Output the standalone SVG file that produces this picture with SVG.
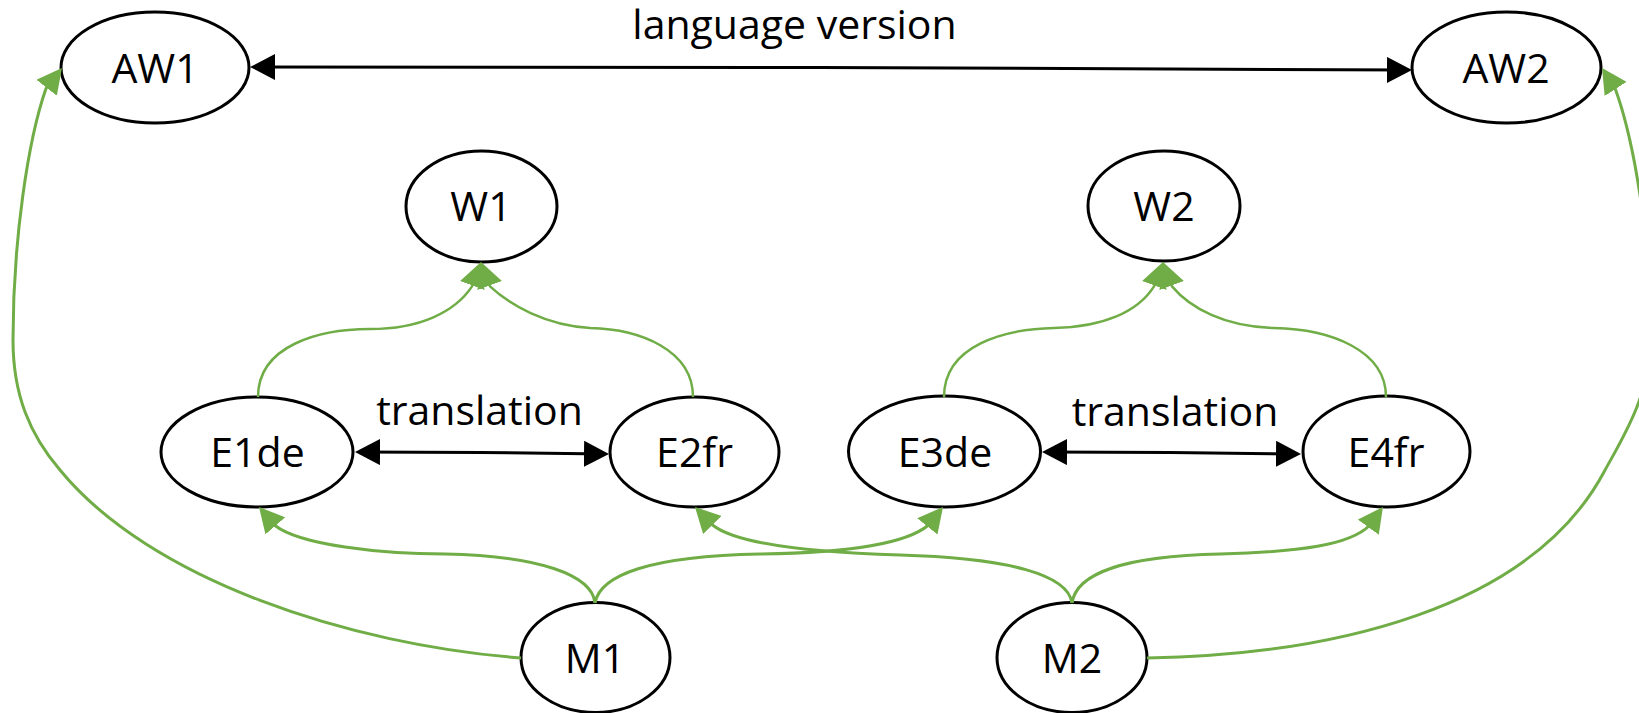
<svg xmlns="http://www.w3.org/2000/svg" width="1639" height="713" viewBox="0 0 1639 713">
<style>
.node ellipse{fill:#fff;stroke:#000;stroke-width:3}
text{font-family:"Open Sans","Liberation Sans",sans-serif;font-size:41px;fill:#000;text-anchor:middle}
.blk{fill:none;stroke:#000;stroke-width:3;marker-start:url(#ab);marker-end:url(#ab)}
.grn{fill:none;stroke:#70AD47;stroke-width:3;marker-end:url(#ag)}
.thin{stroke-width:2.5}
</style>
<defs>
<marker id="ab" markerUnits="userSpaceOnUse" viewBox="0 0 25 26" markerWidth="25" markerHeight="26" refX="21" refY="13" orient="auto-start-reverse"><path d="M0,0 L25,13 L0,26 z" fill="#000"/></marker>
<marker id="ag" markerUnits="userSpaceOnUse" viewBox="0 0 25 26" markerWidth="25" markerHeight="26" refX="21" refY="13" orient="auto"><path d="M0,0 L25,13 L0,26 z" fill="#70AD47"/></marker>
</defs>
<g id="AW1" class="node"><ellipse cx="155" cy="67.5" rx="94" ry="55.5"/><text x="155" y="83">AW1</text></g>
<g id="AW2" class="node"><ellipse cx="1506.5" cy="67.5" rx="94.5" ry="55.5"/><text x="1506" y="83">AW2</text></g>
<g id="W1" class="node"><ellipse cx="481.5" cy="206.5" rx="75.5" ry="55.5"/><text x="481" y="221">W1</text></g>
<g id="W2" class="node"><ellipse cx="1164" cy="206" rx="76" ry="55"/><text x="1164" y="221">W2</text></g>
<g id="E1de" class="node"><ellipse cx="257" cy="452" rx="96" ry="55"/><text x="257.5" y="467">E1de</text></g>
<g id="E2fr" class="node"><ellipse cx="694.5" cy="452" rx="84.5" ry="55"/><text x="694.5" y="467">E2fr</text></g>
<g id="E3de" class="node"><ellipse cx="944.5" cy="451.5" rx="96" ry="55.5"/><text x="945" y="467">E3de</text></g>
<g id="E4fr" class="node"><ellipse cx="1386.5" cy="451.5" rx="83.5" ry="55.5"/><text x="1386" y="467">E4fr</text></g>
<g id="M1" class="node"><ellipse cx="595.5" cy="657.5" rx="74.5" ry="55"/><text x="595" y="673">M1</text></g>
<g id="M2" class="node"><ellipse cx="1072" cy="657.5" rx="75" ry="55"/><text x="1072" y="673">M2</text></g>
<g id="connectors">
<path class="blk" d="M254 67 L820 67.5 L1408 70"/>
<path class="blk" d="M359 452 L480 452.5 L605 454"/>
<path class="blk" d="M1046 452 L1170 452.5 L1297 454"/>
<path class="grn thin" d="M258 397 C258 345 320 329 370 329 C420 329 455 312 472 286.4 L479.6 265.8"/>
<path class="grn thin" d="M693 397 C693 350 640 329 590 328 C545 325 510 305 490 286.4 L482.4 265.8"/>
<path class="grn thin" d="M944 397 C944 345 1005 329 1054 328 C1103 327 1138 312 1154 286.4 L1161.6 265.8"/>
<path class="grn thin" d="M1386 397 C1386 350 1330 329 1274 328 C1225 327 1190 308 1172 286.4 L1164.4 265.8"/>
<path class="grn" d="M595 603 C592 575 540 556 445 554 C380 554 300 545 275 525.5 L261.6 510"/>
<path class="grn" d="M595 603 C600 575 650 556 760 554 C840 553 905 545 928.5 525 L940.5 510.1"/>
<path class="grn" d="M1072 603 C1068 575 1010 558 900 555 C800 552 735 543 712.5 525 L697.8 509.9"/>
<path class="grn" d="M1072 603 C1076 575 1120 556 1220 554 C1300 552 1350 545 1369.5 525.5 L1380.6 510.2"/>
<path class="grn" d="M521 658 C350 645 150 580 60 470 C30 435 13 395 13 340 C13 240 28 140 46 88.5 L59.5 71.2"/>
<path class="grn" d="M1147 658 C1330 655 1530 610 1604 472 C1619 444 1651 395 1651 340 C1651 240 1634 140 1615 88 L1604.2 71.3"/>
<text x="794.5" y="39">language version</text>
<text x="479.5" y="425">translation</text>
<text x="1175" y="426">translation</text>
</g>
</svg>
